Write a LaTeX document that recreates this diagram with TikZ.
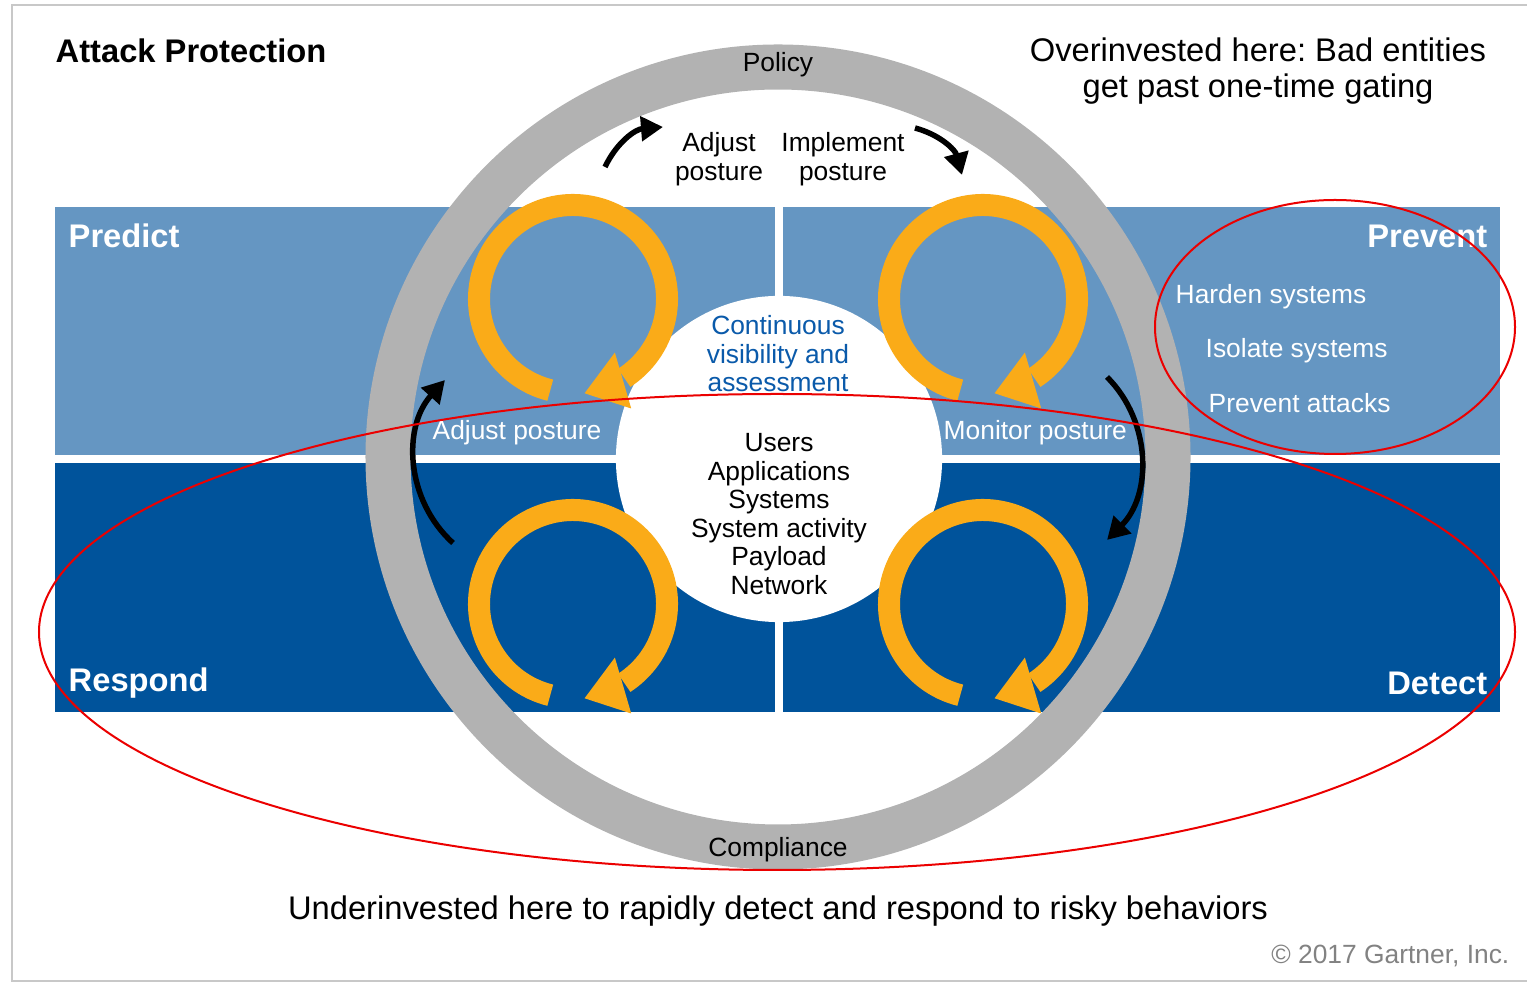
\documentclass[tikz,border=0pt]{standalone}
\usepackage{fontspec}
\setmainfont{Liberation Sans}
\usetikzlibrary{arrows.meta,positioning}
\frenchspacing

\definecolor{predictblue}{RGB}{101,150,194}
\definecolor{respondblue}{RGB}{0,83,155}
\definecolor{looporange}{RGB}{250,171,24}
\definecolor{ringgray}{RGB}{178,178,178}
\definecolor{visiblue}{RGB}{10,90,170}
\definecolor{framegray}{RGB}{200,200,200}
\definecolor{copygray}{RGB}{130,130,130}
\definecolor{notered}{RGB}{235,0,0}

\tikzset{
  smalltxt/.style={font=\fontsize{7.5}{8.1}\selectfont, inner sep=0pt, align=center},
  paneltitle/.style={font=\fontsize{9.3}{10}\selectfont\bfseries, text=white, inner sep=0pt},
  notetxt/.style={font=\fontsize{9.3}{10.2}\selectfont, inner sep=0pt, align=center},
  panel/.style={anchor=north west, minimum width=7.2cm, minimum height=2.48cm, inner sep=0pt, outer sep=0pt},
  turnarrow/.style={line width=0.055cm, -{Triangle[length=0.22cm, width=0.24cm]}},
}

% orange loop arrow round a named centre
\newcommand{\looparrow}[1]{%
  \draw[looporange, line width=0.22cm] (#1) ++(104:94) arc[start angle=104, end angle=417, radius=94];
  \fill[looporange] ([shift={(52:68)}]#1) -- ([shift={(62:124)}]#1) -- ([shift={(83:95)}]#1) -- cycle;
}

\begin{document}
\begin{tikzpicture}[x=0.01cm, y=-0.01cm]
  \useasboundingbox (0,0) rectangle (1527,983);
  \draw[framegray, line width=0.02cm] (1527,5) -| (12,981) -- (1527,981);
  % the four quadrants
  \node[panel, fill=predictblue] (predict) at (55,207) {};
  \node[panel, fill=predictblue, minimum width=7.17cm] (prevent) at (783,207) {};
  \node[panel, fill=respondblue, minimum height=2.49cm] (respond) at (55,463) {};
  \node[panel, fill=respondblue, minimum width=7.17cm, minimum height=2.49cm] (detect) at (783,463) {};
  % policy / compliance ring and the core
  \coordinate (hub) at (778,457);
  \draw[ringgray, line width=0.45cm] (hub) circle (390);
  \node[circle, fill=white, minimum size=3.26cm, inner sep=0pt] (core) at (779,459) {};
  % orange loops, one per quadrant
  \coordinate (loopnw) at (573,299);
  \coordinate (loopne) at (983,299);
  \coordinate (loopsw) at (573,604);
  \coordinate (loopse) at (983,604);
  \looparrow{loopnw}
  \looparrow{loopne}
  \looparrow{loopsw}
  \looparrow{loopse}
  % texts
  \node[paneltitle, text=black, anchor=west] (title) at (55,51) {Attack Protection};
  \node[paneltitle, anchor=west] (predictlbl) at (68,236) {Predict};
  \node[paneltitle, anchor=east] (preventlbl) at (1488,236) {Prevent};
  \node[paneltitle, anchor=west] (respondlbl) at (68,683) {Respond};
  \node[paneltitle, anchor=east] (detectlbl) at (1488,683) {Detect};
  \node[smalltxt] (policy) at (778,65) {Policy};
  \node[smalltxt] (compliance) at (778,850) {Compliance};
  \node[smalltxt] (adjtop) at (719,159) {Adjust\\posture};
  \node[smalltxt] (impltop) at (843,159) {Implement\\posture};
  \node[smalltxt, text=white, anchor=west] (adjside) at (432,433) {Adjust posture};
  \node[smalltxt, text=white, anchor=west] (monside) at (943,433) {Monitor posture};
  \node[smalltxt, text=visiblue] (visibility) at (778,354) {Continuous\\visibility and\\assessment};
  \node[smalltxt] (assets) at (779,514) {Users\\Applications\\Systems\\System activity\\Payload\\Network};
  \node[smalltxt, text=white, anchor=west] (harden) at (1175,297) {Harden systems};
  \node[smalltxt, text=white, anchor=west] (isolate) at (1205,351) {Isolate systems};
  \node[smalltxt, text=white, anchor=west] (stopatk) at (1208,403) {Prevent attacks};
  \node[notetxt] (overnote) at (1258,71) {Overinvested here: Bad entities\\get past one-time gating};
  \node[notetxt] (undernote) at (778,911) {Underinvested here to rapidly detect and respond to risky behaviors};
  \node[smalltxt, text=copygray, anchor=east] (copy) at (1510,956) {\textcopyright{} 2017 Gartner, Inc.};
  % black turning arrows
  \coordinate (adjfrom) at (605,167);
  \coordinate (adjto) at (663,127);
  \coordinate (implfrom) at (915,128);
  \coordinate (implto) at (962,175);
  \coordinate (monfrom) at (1107,377);
  \coordinate (monto) at (1107,540);
  \coordinate (respfrom) at (453,543);
  \coordinate (respto) at (445,380);
  \draw[turnarrow] (adjfrom) to[bend left=30] (adjto);
  \draw[turnarrow] (implfrom) to[bend left=30] (implto);
  \draw[turnarrow] (monfrom) to[bend left=45] (monto);
  \draw[turnarrow] (respfrom) to[bend left=45] (respto);
  % red marks
  \draw[notered, line width=0.02cm] (777,632) ellipse[x radius=738, y radius=238];
  \draw[notered, line width=0.02cm] (1335,327) ellipse[x radius=180, y radius=127];
\end{tikzpicture}
\end{document}
